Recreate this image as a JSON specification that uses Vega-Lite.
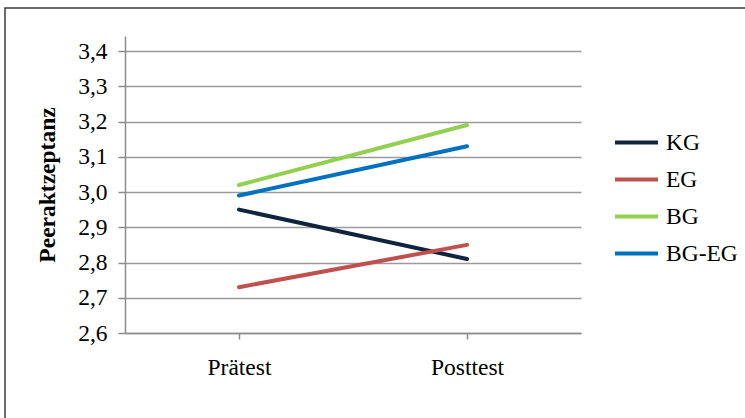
{
  "$schema": "https://vega.github.io/schema/vega-lite/v6.json",
  "autosize": "none",
  "padding": {"left": 5, "top": 8, "right": 0, "bottom": 0},
  "width": 741,
  "height": 411,
  "background": "white",
  "config": {
    "view": {"stroke": "#3c3c3c", "strokeWidth": 1.5, "fill": "white"},
    "font": "Liberation Serif",
    "axis": {
      "labelFont": "Liberation Serif",
      "titleFont": "Liberation Serif",
      "labelColor": "black",
      "titleColor": "black",
      "domainColor": "#8c8c8c",
      "domainWidth": 1.5,
      "tickColor": "#8c8c8c",
      "tickWidth": 1.5,
      "gridColor": "#9a9a9a",
      "gridWidth": 1.3
    },
    "legend": {"labelFont": "Liberation Serif", "labelColor": "black"}
  },
  "data": {
    "values": [
      {"Zeitpunkt": "Prätest", "Gruppe": "KG", "Wert": 2.95},
      {"Zeitpunkt": "Posttest", "Gruppe": "KG", "Wert": 2.81},
      {"Zeitpunkt": "Prätest", "Gruppe": "EG", "Wert": 2.73},
      {"Zeitpunkt": "Posttest", "Gruppe": "EG", "Wert": 2.85},
      {"Zeitpunkt": "Prätest", "Gruppe": "BG", "Wert": 3.02},
      {"Zeitpunkt": "Posttest", "Gruppe": "BG", "Wert": 3.19},
      {"Zeitpunkt": "Prätest", "Gruppe": "BG-EG", "Wert": 2.99},
      {"Zeitpunkt": "Posttest", "Gruppe": "BG-EG", "Wert": 3.13}
    ]
  },
  "mark": {"type": "line", "strokeWidth": 4, "strokeCap": "round", "clip": false},
  "encoding": {
    "x": {
      "field": "Zeitpunkt",
      "type": "nominal",
      "sort": ["Prätest", "Posttest"],
      "scale": {"type": "point", "padding": 0.5, "range": [120, 576]},
      "axis": {
        "title": null,
        "labelAngle": 0,
        "labelFontSize": 23.5,
        "tickSize": 6,
        "labelPadding": 16,
        "offset": -86,
        "grid": false
      }
    },
    "y": {
      "field": "Wert",
      "type": "quantitative",
      "scale": {"domain": [2.6, 3.4426], "nice": false, "zero": false, "range": [325, 28]},
      "axis": {
        "title": "Peeraktzeptanz",
        "titleFontSize": 23.5,
        "titleFontWeight": "bold",
        "titlePadding": 18,
        "values": [2.6, 2.7, 2.8, 2.9, 3.0, 3.1, 3.2, 3.3, 3.4],
        "labelExpr": "replace(format(datum.value, '.1f'), '.', ',')",
        "labelFontSize": 23.5,
        "tickSize": 7,
        "labelPadding": 11,
        "offset": -120,
        "grid": true
      }
    },
    "color": {
      "field": "Gruppe",
      "type": "nominal",
      "scale": {
        "domain": ["KG", "EG", "BG", "BG-EG"],
        "range": ["#10243E", "#C0504D", "#92D050", "#0070C0"]
      },
      "legend": {
        "title": null,
        "orient": "none",
        "legendX": 608,
        "legendY": 111,
        "padding": 0,
        "symbolType": "stroke",
        "symbolSize": 1849,
        "symbolStrokeWidth": 4,
        "labelFontSize": 23.5,
        "labelOffset": 6,
        "rowPadding": 2
      }
    }
  }
}
